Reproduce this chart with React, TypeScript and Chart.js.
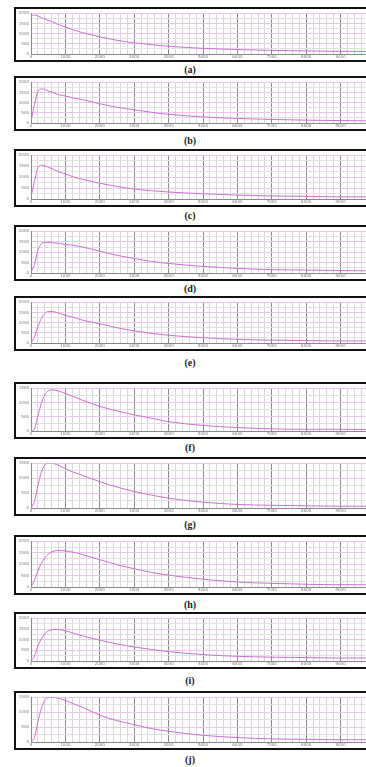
import React, { useEffect, useRef } from "react";
import { Chart, registerables } from "chart.js";
Chart.register(...registerables);

// ---- data ----
const xValues = [0, 0.1, 0.2, 0.3, 0.4, 0.5, 0.6, 0.8, 1, 1.25, 1.5, 2, 2.5, 3, 3.5, 4, 5, 6, 7, 8, 9, 10];
const xTickLabels = ["0", "1000", "2000", "3000", "4000", "5000", "6000", "7000", "8000", "9000", ""];
const yTickLabels4 = ["0", "500", "1000", "1500", "2000"];
const yTickLabels3 = ["0", "500", "1000", "1500"];

const seriesA = [3.7, 3.85, 3.75, 3.6, 3.45, 3.3, 3.2, 2.9, 2.65, 2.35, 2.1, 1.7, 1.35, 1.1, 0.92, 0.76, 0.56, 0.44, 0.36, 0.3, 0.26, 0.24];
const seriesB = [0.2, 1.8, 3.1, 3.35, 3.3, 3.15, 3.05, 2.8, 2.65, 2.45, 2.3, 1.9, 1.55, 1.3, 1.05, 0.85, 0.6, 0.45, 0.35, 0.28, 0.24, 0.2];
const seriesC = [0.2, 1.6, 2.9, 3.1, 3.05, 2.9, 2.8, 2.5, 2.3, 2.0, 1.8, 1.45, 1.15, 0.92, 0.76, 0.64, 0.48, 0.36, 0.28, 0.24, 0.2, 0.2];
const seriesD = [0.08, 0.8, 2.2, 2.8, 2.95, 2.95, 2.92, 2.85, 2.75, 2.65, 2.5, 2.1, 1.7, 1.4, 1.12, 0.92, 0.64, 0.44, 0.32, 0.28, 0.24, 0.2];
const seriesE = [0, 0.6, 1.6, 2.4, 2.9, 3.1, 3.1, 2.95, 2.72, 2.5, 2.25, 1.9, 1.5, 1.2, 0.95, 0.76, 0.52, 0.36, 0.28, 0.24, 0.2, 0.2];
const seriesF = [0, 0.15, 1.05, 1.95, 2.55, 2.82, 2.9, 2.82, 2.64, 2.4, 2.16, 1.74, 1.41, 1.14, 0.9, 0.66, 0.39, 0.24, 0.15, 0.12, 0.12, 0.09];
const seriesG = [0, 0.45, 1.5, 2.4, 2.88, 3.0, 3.0, 2.88, 2.64, 2.4, 2.19, 1.77, 1.41, 1.11, 0.87, 0.66, 0.39, 0.24, 0.18, 0.15, 0.12, 0.12];
const seriesH = [0, 0.6, 1.4, 2.08, 2.56, 2.88, 3.08, 3.2, 3.16, 3.04, 2.84, 2.4, 1.96, 1.6, 1.28, 1.04, 0.68, 0.44, 0.32, 0.24, 0.2, 0.2];
const seriesI = [0, 0.48, 1.4, 2.08, 2.56, 2.8, 2.92, 2.96, 2.84, 2.6, 2.36, 1.96, 1.6, 1.32, 1.08, 0.88, 0.6, 0.44, 0.36, 0.32, 0.28, 0.28];
const seriesJ = [0, 0.3, 1.35, 2.25, 2.79, 2.97, 3.0, 2.94, 2.79, 2.55, 2.34, 1.8, 1.44, 1.17, 0.9, 0.72, 0.45, 0.3, 0.21, 0.18, 0.15, 0.15];

const panelLabels = ["(a)", "(b)", "(c)", "(d)", "(e)", "(f)", "(g)", "(h)", "(i)", "(j)"];
const panelSeries = [seriesA, seriesB, seriesC, seriesD, seriesE, seriesF, seriesG, seriesH, seriesI, seriesJ];
const panelYTicks = [yTickLabels4, yTickLabels4, yTickLabels4, yTickLabels4, yTickLabels4, yTickLabels3, yTickLabels3, yTickLabels4, yTickLabels4, yTickLabels3];

// ---- layout (pixels) ----
const layout = [
  { top: 7, bottom: 62, label: 70 },
  { top: 76, bottom: 131, label: 141 },
  { top: 149, bottom: 207, label: 216 },
  { top: 225, bottom: 281, label: 289 },
  { top: 296, bottom: 351, label: 363 },
  { top: 382, bottom: 439, label: 448 },
  { top: 457, bottom: 516, label: 525 },
  { top: 535, bottom: 595, label: 605 },
  { top: 612, bottom: 669, label: 681 },
  { top: 691, bottom: 750, label: 760 },
];

const CANVAS_W = 360;
const isInt = (v: number) => Math.abs(v - Math.round(v)) < 1e-6;

function Panel({ values, yTicks, top, bottom }: any) {
  const ref = useRef<HTMLCanvasElement>(null);
  const h = bottom - top - 4;
  useEffect(() => {
    const yMax = yTicks.length - 1;
    const chart = new Chart(ref.current!, {
      type: "line",
      data: {
        datasets: [
          {
            data: xValues.map((x, i) => ({ x, y: values[i] })),
            borderColor: "#cf6fd2",
            borderWidth: 1,
            pointRadius: 0,
            cubicInterpolationMode: "monotone",
            fill: false,
          },
        ],
      },
      options: {
        animation: false,
        responsive: false,
        devicePixelRatio: 1,
        layout: { padding: { top: 3, right: 0, left: 0, bottom: 0 } },
        plugins: { legend: { display: false }, tooltip: { enabled: false } },
        scales: {
          x: {
            type: "linear",
            min: 0,
            max: 10,
            afterFit: (s: any) => {
              s.height = 6;
            },
            border: { color: "#888", width: 1 },
            grid: {
              drawTicks: false,
              lineWidth: 1,
              color: (ctx: any) => (isInt(ctx.tick.value) ? "#8a8a8a" : "#d8d8d8"),
            },
            ticks: {
              stepSize: 0.2,
              autoSkip: false,
              maxRotation: 0,
              padding: 1,
              color: "#777",
              font: { size: 4, family: "DejaVu Sans" },
              callback: (v: any) => (isInt(v) ? xTickLabels[Math.round(v)] : ""),
            },
          },
          y: {
            min: 0,
            max: yMax,
            afterFit: (s: any) => {
              s.width = 15;
            },
            border: { color: "#888", width: 1 },
            grid: {
              drawTicks: false,
              lineWidth: 1,
              color: (ctx: any) => (isInt(ctx.tick.value) ? "#ebc6ec" : "#e0e0e0"),
            },
            ticks: {
              stepSize: 0.5,
              autoSkip: false,
              padding: 2,
              color: "#777",
              font: { size: 4, family: "DejaVu Sans" },
              callback: (v: any) => (isInt(v) ? yTicks[Math.round(v)] : ""),
            },
          },
        },
      },
    } as any);
    return () => chart.destroy();
  }, []);
  return (
    <div
      style={{
        position: "absolute",
        left: 14,
        top,
        width: CANVAS_W,
        height: h,
        border: "2px solid #111",
        overflow: "hidden",
        background: "#fff",
      }}
    >
      <canvas ref={ref} width={CANVAS_W} height={h} style={{ display: "block", width: CANVAS_W, height: h }} />
    </div>
  );
}

export default function App() {
  return (
    <div
      style={{
        position: "fixed",
        left: 0,
        top: 0,
        width: 366,
        height: 767,
        overflow: "hidden",
        background: "#fff",
      }}
    >
      {layout.map((p, i) => (
        <React.Fragment key={i}>
          <Panel values={panelSeries[i]} yTicks={panelYTicks[i]} top={p.top} bottom={p.bottom} />
          <div
            style={{
              position: "absolute",
              left: 0,
              width: 380,
              top: p.label - 7,
              height: 14,
              lineHeight: "14px",
              textAlign: "center",
              fontFamily: "'Liberation Serif', serif",
              fontSize: 10,
              fontWeight: "bold",
              color: "#222",
            }}
          >
            {panelLabels[i]}
          </div>
        </React.Fragment>
      ))}
    </div>
  );
}
